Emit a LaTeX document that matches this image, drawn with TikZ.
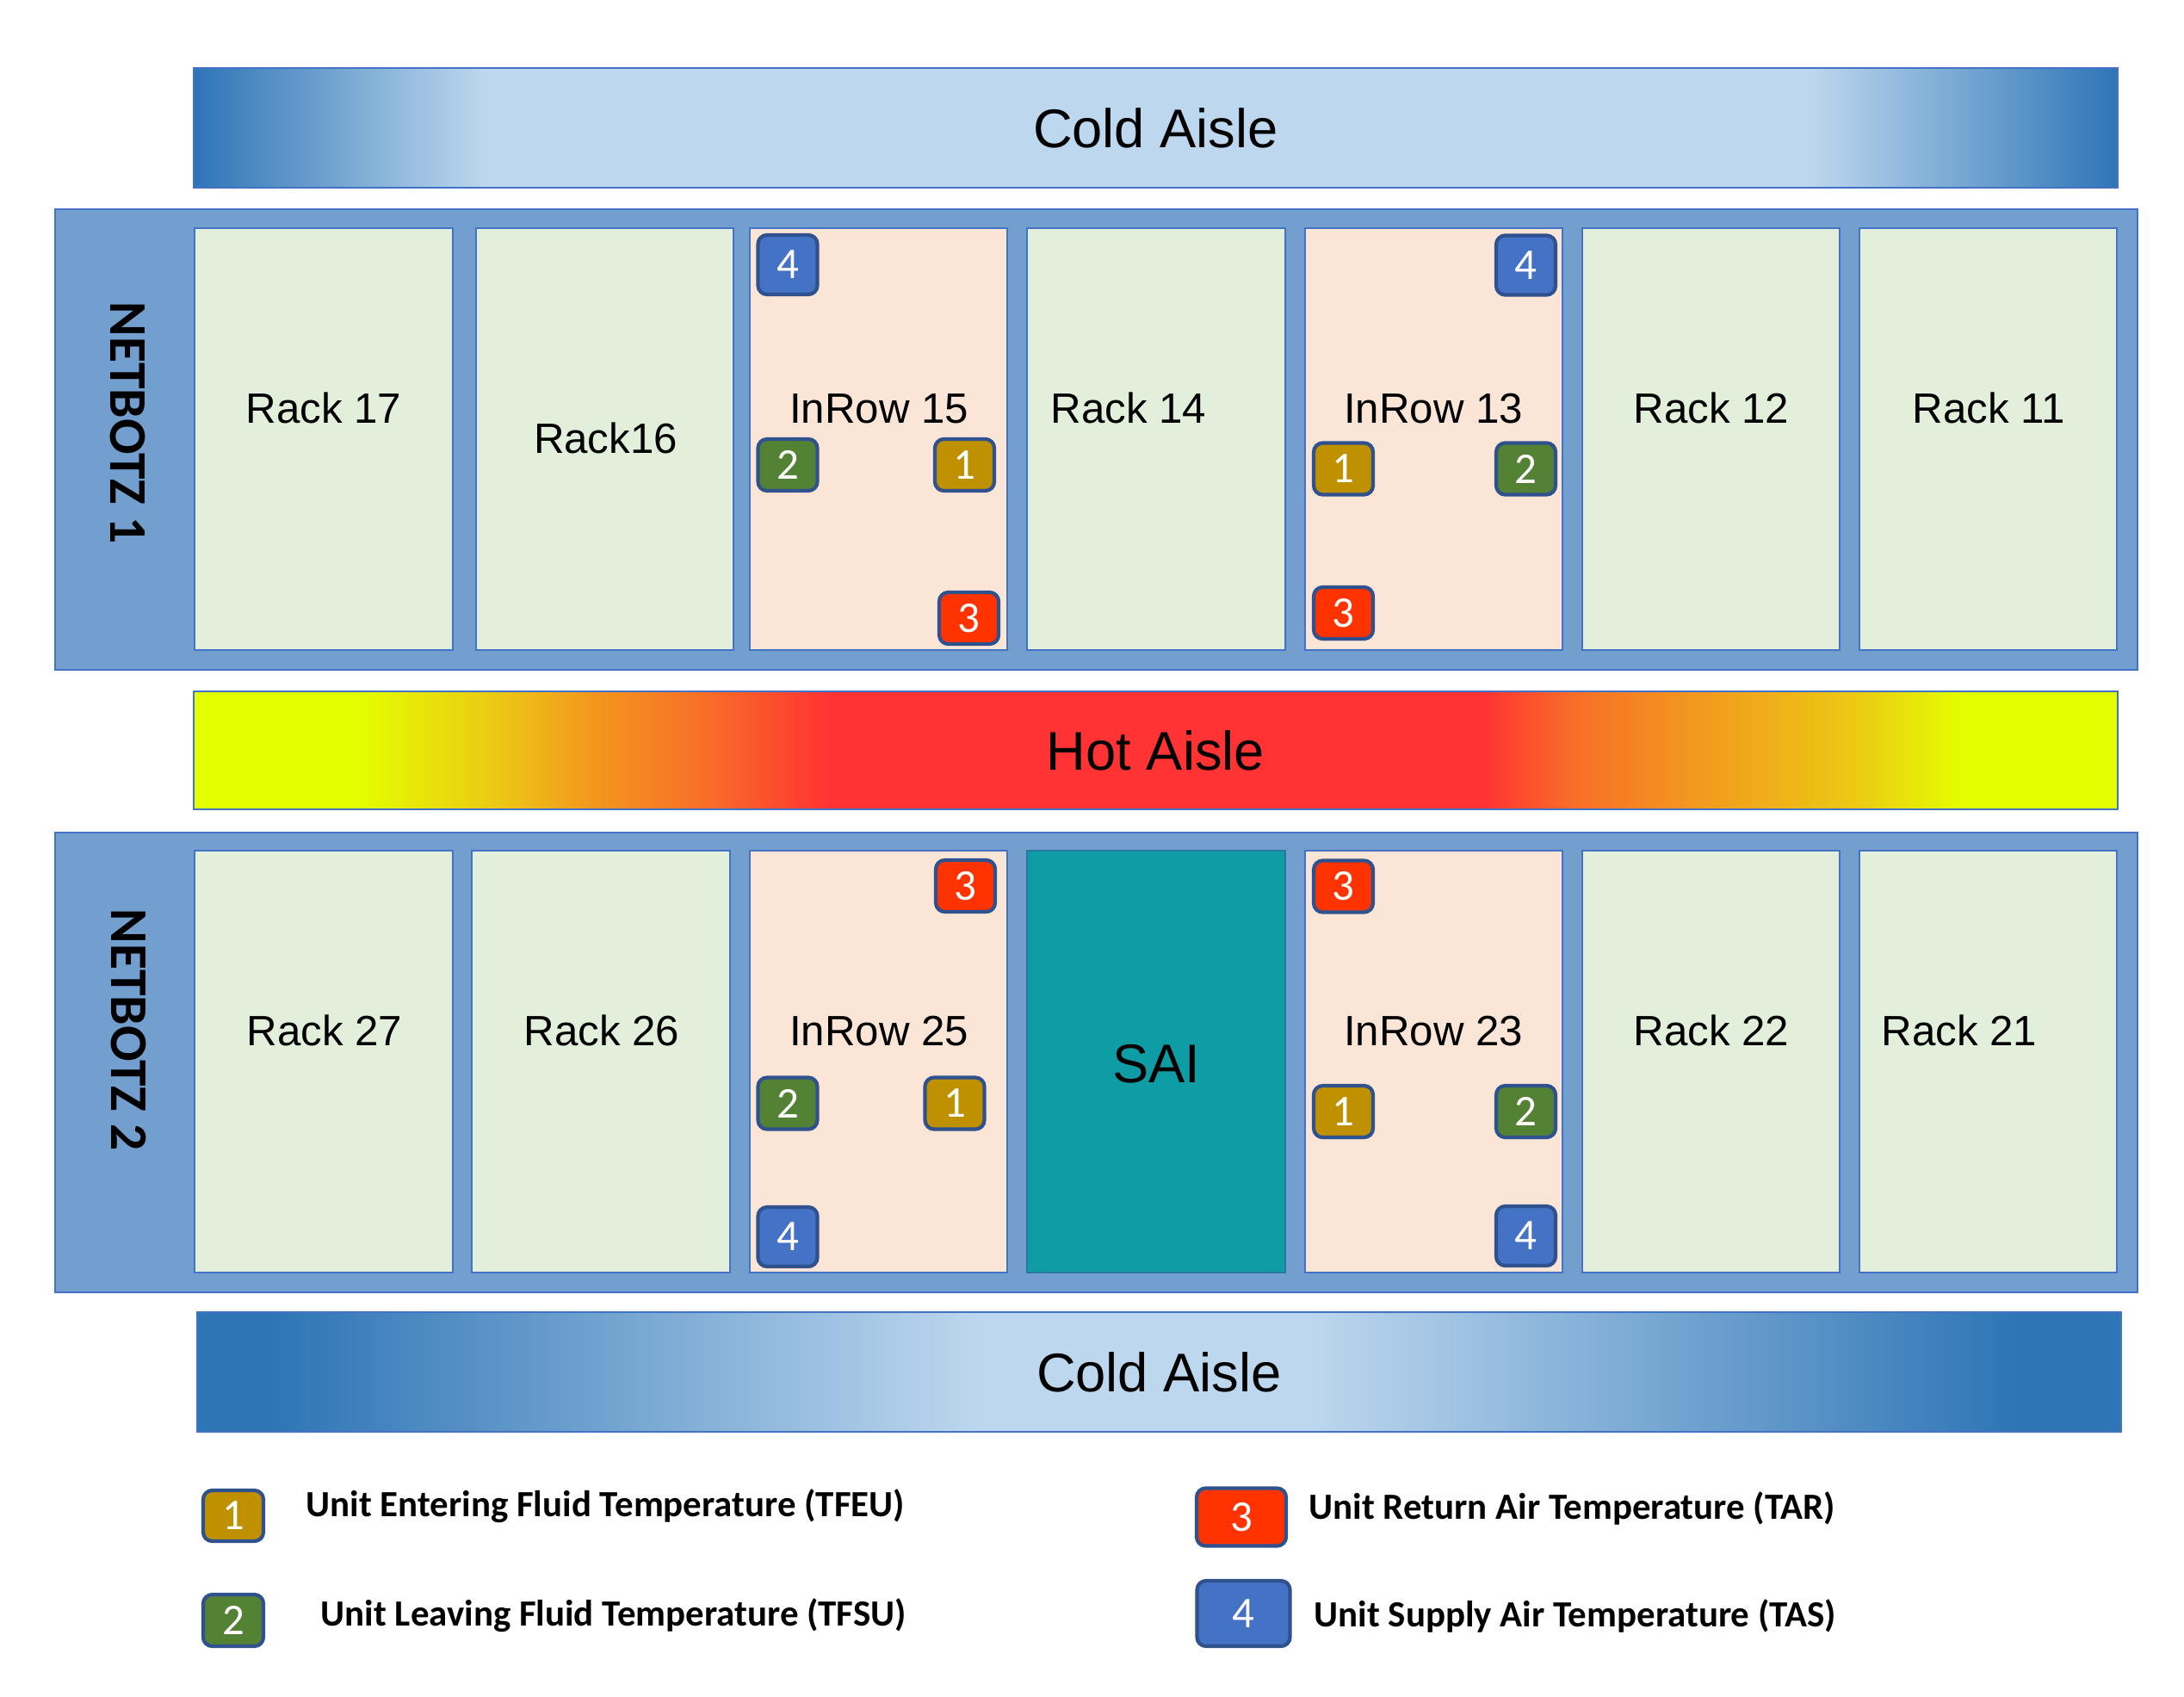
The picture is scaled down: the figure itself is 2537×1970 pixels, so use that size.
\documentclass[tikz,border=0pt]{standalone}
\usepackage{fontspec}
\setmainfont{Liberation Sans}
\newfontfamily\calibri{Carlito}
\definecolor{coldDark}{RGB}{46,117,182}
\definecolor{coldLight}{RGB}{189,215,238}
\definecolor{hotYellow}{RGB}{228,255,0}
\definecolor{hotGold}{RGB}{236,200,20}
\definecolor{hotOrange}{RGB}{243,150,30}
\definecolor{hotOrRed}{RGB}{248,110,40}
\definecolor{hotRed}{RGB}{255,51,51}
\definecolor{panelFill}{RGB}{115,159,207}
\definecolor{panelLine}{RGB}{68,114,196}
\definecolor{rackFill}{RGB}{226,239,218}
\definecolor{inrowFill}{RGB}{251,229,214}
\definecolor{saiFill}{RGB}{15,157,165}
\definecolor{saiLine}{RGB}{40,120,160}
\definecolor{sGold}{RGB}{191,144,0}
\definecolor{sGreen}{RGB}{84,130,53}
\definecolor{sRed}{RGB}{255,51,0}
\definecolor{sBlue}{RGB}{68,114,196}
\definecolor{sLine}{RGB}{47,82,143}
\pgfdeclarehorizontalshading{coldtop}{100bp}{color(0bp)=(coldDark); color(25bp)=(coldDark); color(32.55bp)=(coldLight); color(67bp)=(coldLight); color(75bp)=(coldDark); color(100bp)=(coldDark)}
\pgfdeclarehorizontalshading{coldbot}{100bp}{color(0bp)=(coldDark); color(26.95bp)=(coldDark); color(45.35bp)=(coldLight); color(53.9bp)=(coldLight); color(72.25bp)=(coldDark); color(100bp)=(coldDark)}
\pgfdeclarehorizontalshading{hotaisle}{100bp}{color(0bp)=(hotYellow); color(29.2bp)=(hotYellow); color(32.9bp)=(hotGold); color(35.4bp)=(hotOrange); color(38.3bp)=(hotOrRed); color(41.5bp)=(hotRed); color(58.55bp)=(hotRed); color(60.85bp)=(hotOrRed); color(63.85bp)=(hotOrange); color(68.1bp)=(hotGold); color(71.05bp)=(hotYellow); color(100bp)=(hotYellow)}
\begin{document}
\begin{tikzpicture}[x=0.01cm, y=-0.01cm,
  panel/.style={draw=panelLine, line width=0.6pt, fill=panelFill, inner sep=0, minimum width=24.17cm, minimum height=5.35cm},
  rackbox/.style={draw=panelLine, line width=0.6pt, fill=rackFill, minimum width=2.99cm, minimum height=4.9cm, inner sep=0},
  inrowbox/.style={rackbox, fill=inrowFill},
  saibox/.style={rackbox, fill=saiFill, draw=saiLine},
  racklabel/.style={anchor=base, inner sep=0, font=\fontsize{14}{16}\selectfont},
  aisle/.style={draw=panelLine, line width=0.6pt, minimum width=22.33cm, minimum height=1.39cm, inner sep=0, font=\fontsize{18}{20}\selectfont},
  netbotz/.style={rotate=-90, inner sep=0, font=\calibri\bfseries\fontsize{17.5}{18}\selectfont},
  sensor/.style={draw=sLine, line width=1.2pt, rounded corners=3pt, minimum width=0.69cm, minimum height=0.60cm, inner sep=0, text=white, font=\calibri\fontsize{14.5}{14.5}\selectfont},
  tallsensor/.style={sensor, minimum height=0.69cm},
  legtext/.style={anchor=base west, inner sep=0, font=\calibri\bfseries\fontsize{12.2}{14}\selectfont}
]
\useasboundingbox[fill=white] (0,0) rectangle (2537,1970);

% aisles
\node[aisle, shade, shading=coldtop] (coldtop) at (1342.5,148.5) {Cold Aisle};
\node[aisle, shade, shading=hotaisle, minimum height=1.37cm] (hot) at (1342.5,871.5) {Hot Aisle};
\node[aisle, shade, shading=coldbot] (coldbot) at (1346.5,1593.5) {Cold Aisle};

% panels
\node[panel] (p1) at (1273.5,510.5) {};
\node[panel, minimum height=5.34cm] (p2) at (1273.5,1234) {};
\node[netbotz] (nb1) at (148,491) {NETBOTZ 1};
\node[netbotz] (nb2) at (149,1196) {NETBOTZ 2};

% top row
\node[rackbox] (r17) at (376,510.25) {};
\node[rackbox] (r16) at (702.75,510.25) {};
\node[inrowbox] (ir15) at (1020.5,510.25) {};
\node[rackbox] (r14) at (1343,510.25) {};
\node[inrowbox] (ir13) at (1665.5,510.25) {};
\node[rackbox] (r12) at (1987.5,510.25) {};
\node[rackbox] (r11) at (2309.5,510.25) {};

\node[racklabel] (r17t) at (376,491) {Rack 17};
\node[racklabel] (r16t) at (703.5,526.5) {Rack16};
\node[racklabel] (ir15t) at (1021,491) {InRow 15};
\node[racklabel] (r14t) at (1311,491) {Rack 14};
\node[racklabel] (ir13t) at (1665,491) {InRow 13};
\node[racklabel] (r12t) at (1988,491) {Rack 12};
\node[racklabel] (r11t) at (2310,491) {Rack 11};

% bottom row
\node[rackbox] (r27) at (376,1233) {};
\node[rackbox] (r26) at (698,1233) {};
\node[inrowbox] (ir25) at (1020.5,1233) {};
\node[saibox] (sai) at (1343,1233) {};
\node[inrowbox] (ir23) at (1665.5,1233) {};
\node[rackbox] (r22) at (1987.5,1233) {};
\node[rackbox] (r21) at (2309.5,1233) {};

\node[racklabel] (r27t) at (377,1214) {Rack 27};
\node[racklabel] (r26t) at (699,1214) {Rack 26};
\node[racklabel] (ir25t) at (1021,1214) {InRow 25};
\node[racklabel, font=\fontsize{18}{20}\selectfont] (sait) at (1343,1257) {SAI};
\node[racklabel] (ir23t) at (1665,1214) {InRow 23};
\node[racklabel] (r22t) at (1988,1214) {Rack 22};
\node[racklabel] (r21t) at (2276,1214) {Rack 21};

% sensors InRow 15
\node[tallsensor, fill=sBlue] (s15d) at (915,307.5) {4};
\node[sensor, fill=sGreen] (s15b) at (915,540) {2};
\node[sensor, fill=sGold] (s15a) at (1120.5,540) {1};
\node[sensor, fill=sRed] (s15c) at (1125.5,718) {3};
% sensors InRow 13
\node[tallsensor, fill=sBlue] (s13d) at (1772.5,308) {4};
\node[sensor, fill=sGold] (s13a) at (1560.5,544.5) {1};
\node[sensor, fill=sGreen] (s13b) at (1772.5,544.5) {2};
\node[sensor, fill=sRed] (s13c) at (1560.5,712) {3};
% sensors InRow 25
\node[sensor, fill=sRed] (s25c) at (1121.5,1029) {3};
\node[sensor, fill=sGreen] (s25b) at (915,1281.5) {2};
\node[sensor, fill=sGold] (s25a) at (1109,1281.5) {1};
\node[tallsensor, fill=sBlue] (s25d) at (915,1436.5) {4};
% sensors InRow 23
\node[sensor, fill=sRed] (s23c) at (1560.5,1029.5) {3};
\node[sensor, fill=sGold] (s23a) at (1560.5,1291) {1};
\node[sensor, fill=sGreen] (s23b) at (1772.5,1291) {2};
\node[tallsensor, fill=sBlue] (s23d) at (1772.5,1435.5) {4};

% legend
\node[sensor, fill=sGold, minimum width=0.70cm, minimum height=0.59cm] (l1) at (271,1760.5) {1};
\node[legtext] (l1t) at (355,1761.5) {Unit Entering Fluid Temperature (TFEU)};
\node[sensor, fill=sGreen, minimum width=0.70cm, minimum height=0.60cm] (l2) at (271,1882) {2};
\node[legtext] (l2t) at (372,1888.5) {Unit Leaving Fluid Temperature (TFSU)};
\node[sensor, fill=sRed, minimum width=1.04cm, minimum height=0.67cm] (l3) at (1442,1762) {3};
\node[legtext] (l3t) at (1520,1764) {Unit Return Air Temperature (TAR)};
\node[sensor, fill=sBlue, minimum width=1.08cm, minimum height=0.76cm] (l4) at (1444.5,1874) {4};
\node[legtext] (l4t) at (1526,1889.5) {Unit Supply Air Temperature (TAS)};
\end{tikzpicture}
\end{document}
